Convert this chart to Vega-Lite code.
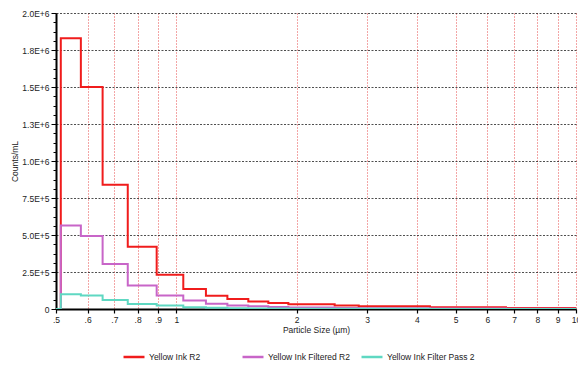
{
  "$schema": "https://vega.github.io/schema/vega-lite/v6.json",
  "width": 520,
  "height": 296,
  "autosize": "none",
  "padding": {"left": 56, "top": 13, "right": 2, "bottom": 57},
  "background": "white",
  "config": {
    "view": {"stroke": null},
    "font": "Liberation Sans",
    "axis": {"labelFontSize": 8.5, "titleFontSize": 8.5, "titleFontWeight": "normal", "labelColor": "#222", "titleColor": "#222"}
  },
  "data": {
    "values": [
      {"size": 0.5, "counts": 0, "series": "Yellow Ink R2"},
      {"size": 0.514, "counts": 1830000, "series": "Yellow Ink R2"},
      {"size": 0.577, "counts": 1500000, "series": "Yellow Ink R2"},
      {"size": 0.654, "counts": 840000, "series": "Yellow Ink R2"},
      {"size": 0.756, "counts": 421000, "series": "Yellow Ink R2"},
      {"size": 0.893, "counts": 232000, "series": "Yellow Ink R2"},
      {"size": 1.041, "counts": 135000, "series": "Yellow Ink R2"},
      {"size": 1.186, "counts": 90000, "series": "Yellow Ink R2"},
      {"size": 1.342, "counts": 67600, "series": "Yellow Ink R2"},
      {"size": 1.514, "counts": 51000, "series": "Yellow Ink R2"},
      {"size": 1.699, "counts": 40000, "series": "Yellow Ink R2"},
      {"size": 1.907, "counts": 32000, "series": "Yellow Ink R2"},
      {"size": 2.49, "counts": 24000, "series": "Yellow Ink R2"},
      {"size": 2.86, "counts": 18000, "series": "Yellow Ink R2"},
      {"size": 4.31, "counts": 11000, "series": "Yellow Ink R2"},
      {"size": 6.68, "counts": 7000, "series": "Yellow Ink R2"},
      {"size": 10, "counts": 7000, "series": "Yellow Ink R2"},
      {"size": 0.5, "counts": 0, "series": "Yellow Ink Filtered R2"},
      {"size": 0.514, "counts": 565000, "series": "Yellow Ink Filtered R2"},
      {"size": 0.577, "counts": 493000, "series": "Yellow Ink Filtered R2"},
      {"size": 0.654, "counts": 304000, "series": "Yellow Ink Filtered R2"},
      {"size": 0.756, "counts": 159000, "series": "Yellow Ink Filtered R2"},
      {"size": 0.893, "counts": 92000, "series": "Yellow Ink Filtered R2"},
      {"size": 1.041, "counts": 58000, "series": "Yellow Ink Filtered R2"},
      {"size": 1.186, "counts": 36000, "series": "Yellow Ink Filtered R2"},
      {"size": 1.342, "counts": 24000, "series": "Yellow Ink Filtered R2"},
      {"size": 1.514, "counts": 18000, "series": "Yellow Ink Filtered R2"},
      {"size": 1.699, "counts": 13000, "series": "Yellow Ink Filtered R2"},
      {"size": 1.907, "counts": 10000, "series": "Yellow Ink Filtered R2"},
      {"size": 2.49, "counts": 7000, "series": "Yellow Ink Filtered R2"},
      {"size": 2.86, "counts": 5000, "series": "Yellow Ink Filtered R2"},
      {"size": 4.31, "counts": 3000, "series": "Yellow Ink Filtered R2"},
      {"size": 6.68, "counts": 2000, "series": "Yellow Ink Filtered R2"},
      {"size": 10, "counts": 2000, "series": "Yellow Ink Filtered R2"},
      {"size": 0.5, "counts": 0, "series": "Yellow Ink Filter Pass 2"},
      {"size": 0.514, "counts": 100000, "series": "Yellow Ink Filter Pass 2"},
      {"size": 0.577, "counts": 91000, "series": "Yellow Ink Filter Pass 2"},
      {"size": 0.654, "counts": 60000, "series": "Yellow Ink Filter Pass 2"},
      {"size": 0.756, "counts": 33000, "series": "Yellow Ink Filter Pass 2"},
      {"size": 0.893, "counts": 23000, "series": "Yellow Ink Filter Pass 2"},
      {"size": 1.041, "counts": 12000, "series": "Yellow Ink Filter Pass 2"},
      {"size": 1.186, "counts": 8000, "series": "Yellow Ink Filter Pass 2"},
      {"size": 1.342, "counts": 5000, "series": "Yellow Ink Filter Pass 2"},
      {"size": 1.514, "counts": 4000, "series": "Yellow Ink Filter Pass 2"},
      {"size": 1.699, "counts": 3000, "series": "Yellow Ink Filter Pass 2"},
      {"size": 1.907, "counts": 2000, "series": "Yellow Ink Filter Pass 2"},
      {"size": 2.49, "counts": 1500, "series": "Yellow Ink Filter Pass 2"},
      {"size": 2.86, "counts": 1000, "series": "Yellow Ink Filter Pass 2"},
      {"size": 4.31, "counts": 800, "series": "Yellow Ink Filter Pass 2"},
      {"size": 6.68, "counts": 500, "series": "Yellow Ink Filter Pass 2"},
      {"size": 10, "counts": 500, "series": "Yellow Ink Filter Pass 2"}
    ]
  },
  "resolve": {"axis": {"y": "independent"}},
  "layer": [
    {
      "mark": {"type": "line", "interpolate": "step-after", "strokeWidth": 2, "clip": true},
      "encoding": {
        "x": {
          "field": "size", "type": "quantitative",
          "scale": {"type": "log", "domain": [0.5, 10], "nice": false},
          "axis": {
            "title": "Particle Size (µm)",
            "values": [0.5, 0.6, 0.7, 0.8, 0.9, 1, 2, 3, 4, 5, 6, 7, 8, 9, 10],
            "labelExpr": "datum.value < 1 ? '.' + format(datum.value * 10, '.0f') : format(datum.value, '.0f')",
            "grid": true, "gridColor": "#e02020", "gridDash": [1, 2], "gridWidth": 0.8, "gridOpacity": 1,
            "domainColor": "#000", "domainWidth": 2, "tickColor": "#000", "tickSize": 4, "tickWidth": 1.2,
            "labelPadding": 2, "titlePadding": 2, "labelFlush": false, "labelOverlap": false
          }
        },
        "y": {
          "field": "counts", "type": "quantitative",
          "scale": {"domain": [0, 2000000], "nice": false},
          "axis": {
            "title": "Counts/mL",
            "values": [0, 250000, 500000, 750000, 1000000, 1250000, 1500000, 1750000, 2000000],
            "labelExpr": "datum.value == 0 ? '0' : upper(format(datum.value, '.1e'))",
            "grid": true, "gridColor": "#222", "gridDash": [2, 1.5], "gridWidth": 0.8, "gridOpacity": 1,
            "domainColor": "#000", "domainWidth": 2, "tickColor": "#000", "tickSize": 5, "tickWidth": 1,
            "labelPadding": 2, "titlePadding": 2, "labelFlush": false
          }
        },
        "color": {
          "field": "series", "type": "nominal",
          "scale": {
            "domain": ["Yellow Ink R2", "Yellow Ink Filtered R2", "Yellow Ink Filter Pass 2"],
            "range": ["#f01c1c", "#c865c8", "#5fd8c2"]
          },
          "legend": {
            "title": null, "orient": "none", "legendX": 66, "legendY": 332,
            "direction": "horizontal", "columns": 3, "gridAlign": "all", "columnPadding": 0,
            "symbolType": "stroke", "symbolSize": 440, "symbolStrokeWidth": 2.5,
            "labelFontSize": 8.5, "labelColor": "#222", "labelOffset": 3
          }
        }
      }
    },
    {
      "mark": {"type": "line", "strokeOpacity": 0},
      "encoding": {
        "x": {"field": "size", "type": "quantitative"},
        "y": {
          "field": "counts", "type": "quantitative",
          "axis": {
            "orient": "left", "title": null, "labels": false, "grid": false, "domain": false,
            "values": [62500, 125000, 187500, 312500, 375000, 437500, 562500, 625000, 687500, 812500, 875000, 937500, 1062500, 1125000, 1187500, 1312500, 1375000, 1437500, 1562500, 1625000, 1687500, 1812500, 1875000, 1937500],
            "tickColor": "#000", "tickSize": 3, "tickWidth": 1
          }
        }
      }
    }
  ]
}
